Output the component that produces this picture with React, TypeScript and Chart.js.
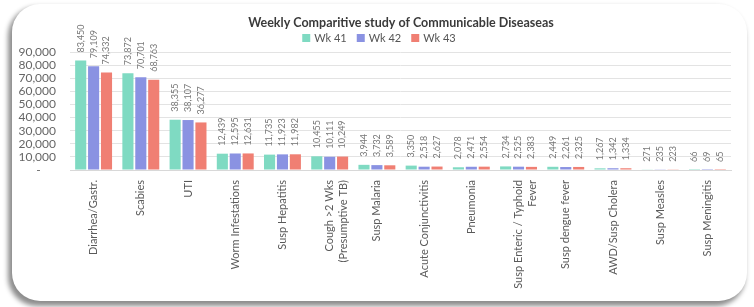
import React, { useEffect, useRef } from "react";
import { Chart, registerables } from "chart.js";

Chart.register(...registerables);

const categories: (string | string[])[] = [
  "Diarrhea/Gastr.",
  "Scabies",
  "UTI",
  "Worm Infestations",
  "Susp Hepatitis",
  ["Cough >2 Wks", "(Presumptive TB)"],
  "Susp Malaria",
  "Acute Conjunctivitis",
  "Pneumonia",
  ["Susp Enteric / Typhoid", "Fever"],
  "Susp dengue fever",
  "AWD/Susp Cholera",
  "Susp Measles",
  "Susp Meningitis",
];

const wk41 = [83450, 73872, 38355, 12439, 11735, 10455, 3944, 3350, 2078, 2734, 2449, 1267, 271, 66];
const wk42 = [79109, 70701, 38107, 12595, 11923, 10111, 3732, 2518, 2471, 2525, 2261, 1342, 235, 69];
const wk43 = [74332, 68763, 36277, 12631, 11982, 10249, 3589, 2627, 2554, 2383, 2325, 1334, 223, 65];

const seriesNames = ["Wk 41", "Wk 42", "Wk 43"];
const seriesColors = ["#7fdac2", "#8a92e2", "#f07f73"];
const titleText = "Weekly Comparitive study of Communicable Diseaseas";

const FONT = "Lato, 'Open Sans', sans-serif";

const fmt = (v: number) => v.toLocaleString("en-US");

const dataLabelPlugin = {
  id: "barValueLabels",
  afterDatasetsDraw(chart: any) {
    const ctx = chart.ctx;
    ctx.save();
    ctx.font = `9px ${FONT}`;
    ctx.fillStyle = "#777777";
    chart.data.datasets.forEach((ds: any, i: number) => {
      const meta = chart.getDatasetMeta(i);
      meta.data.forEach((bar: any, j: number) => {
        ctx.save();
        ctx.translate(bar.x, bar.y - 8);
        ctx.rotate(-Math.PI / 2);
        ctx.textAlign = "left";
        ctx.textBaseline = "middle";
        ctx.fillText(fmt(ds.data[j]), 0, 0);
        ctx.restore();
      });
    });
    ctx.restore();
  },
};

const headerPlugin = {
  id: "header",
  afterDraw(chart: any) {
    const ctx = chart.ctx;
    ctx.save();
    ctx.font = `bold 12.5px ${FONT}`;
    ctx.fillStyle = "#3a3a3a";
    ctx.textAlign = "center";
    ctx.textBaseline = "middle";
    ctx.fillText(titleText, 401, 23);

    ctx.font = `11px ${FONT}`;
    const box = 8;
    const gap = 4;
    const spacing = 10;
    const widths = chart.data.datasets.map((d: any) => box + gap + ctx.measureText(d.label).width);
    const total = widths.reduce((a: number, b: number) => a + b, 0) + spacing * (widths.length - 1);
    let x = 379 - total / 2;
    const y = 38;
    chart.data.datasets.forEach((d: any, i: number) => {
      ctx.fillStyle = d.backgroundColor;
      ctx.fillRect(x, y - box / 2, box, box);
      ctx.fillStyle = "#555";
      ctx.textAlign = "left";
      ctx.fillText(d.label, x + box + gap, y + 0.5);
      x += widths[i] + spacing;
    });
    ctx.restore();
  },
};

export default function App() {
  const ref = useRef<HTMLCanvasElement | null>(null);

  useEffect(() => {
    if (!ref.current) return;
    const series = [wk41, wk42, wk43];
    const chart = new Chart(ref.current, {
      type: "bar",
      data: {
        labels: categories,
        datasets: series.map((d, i) => ({
          label: seriesNames[i],
          data: d,
          backgroundColor: seriesColors[i],
          borderWidth: 0,
          barPercentage: 0.86,
          categoryPercentage: 0.82,
        })),
      },
      options: {
        responsive: false,
        animation: false,
        layout: { padding: { top: 52, right: 23, bottom: 0, left: 0 } },
        plugins: {
          legend: { display: false },
          title: { display: false },
          tooltip: { enabled: false },
        },
        scales: {
          x: {
            grid: { display: false, drawTicks: false },
            border: { display: true, color: "#d8d8d8" },
            ticks: {
              autoSkip: false,
              minRotation: 90,
              maxRotation: 90,
              padding: 10,
              color: "#5a5a5a",
              font: { family: FONT, size: 11, lineHeight: 1.25 },
            },
            afterFit: (s: any) => {
              s.height = 137;
            },
          },
          y: {
            min: 0,
            max: 90000,
            border: { display: false },
            grid: { color: "#e3e3e3", drawTicks: false },
            ticks: {
              autoSkip: false,
              stepSize: 10000,
              padding: 14,
              color: "#666",
              font: { family: FONT, size: 12 },
              callback: (v: any) => (Number(v) === 0 ? "-     " : fmt(Number(v))),
            },
            afterFit: (s: any) => {
              s.width = 70;
            },
          },
        },
      },
      plugins: [dataLabelPlugin, headerPlugin],
    });
    return () => chart.destroy();
  }, []);

  return (
    <div
      style={{
        position: "absolute",
        left: 0,
        top: 0,
        width: 754,
        height: 307,
        overflow: "hidden",
        background: "#ffffff",
      }}
    >
      <div
        style={{
          position: "absolute",
          left: 12,
          top: 4,
          width: 735,
          height: 297,
          borderRadius: 28,
          background: "#ffffff",
          boxShadow: "-3px 4px 5px 1px rgba(0,0,0,0.45)",
        }}
      />
      <canvas
        ref={ref}
        width={754}
        height={307}
        style={{ position: "absolute", left: 0, top: 0, width: 754, height: 307 }}
      />
    </div>
  );
}
